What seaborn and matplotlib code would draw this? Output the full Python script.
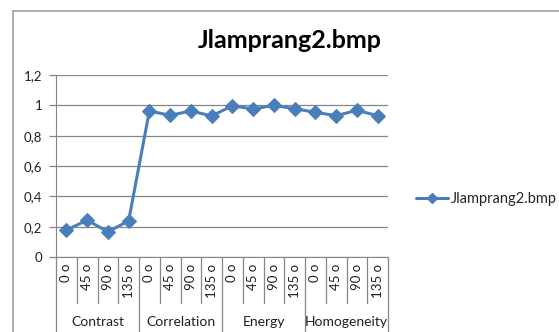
import matplotlib
matplotlib.use("Agg")
import matplotlib.pyplot as plt
import matplotlib.transforms as mtransforms
from matplotlib.lines import Line2D
import seaborn as sns
import numpy as np
import pandas as pd

groups = ["Contrast", "Correlation", "Energy", "Homogeneity"]
angles = ["0 o", "45 o", "90 o", "135 o"]
values = [0.177, 0.243, 0.166, 0.238,
          0.963, 0.934, 0.963, 0.930,
          0.997, 0.976, 1.000, 0.978,
          0.954, 0.932, 0.967, 0.932]
series_name = "Jlamprang2.bmp"
yticks = [0, 0.2, 0.4, 0.6, 0.8, 1.0, 1.2]
ytick_labels = ["0", "0,2", "0,4", "0,6", "0,8", "1", "1,2"]

sns.set_style("white")
plt.rcParams['font.family'] = ['Lato', 'DejaVu Sans']

W, H = 559, 332
fig = plt.figure(figsize=(W / 100, H / 100), dpi=100)

# chart border (left and top lines)
fig.add_artist(Line2D([13 / W, 13 / W], [0, 1 - 11 / H], color="#a0a0a0", lw=1.2))
fig.add_artist(Line2D([13 / W, 1], [1 - 11 / H, 1 - 11 / H], color="#a0a0a0", lw=1.2))

left, right, top, bottom = 56, 388, 75, 257
ax = fig.add_axes([left / W, (H - bottom) / H, (right - left) / W, (bottom - top) / H])

n = len(groups) * len(angles)
df = pd.DataFrame({
    "pos": np.arange(n),
    "value": values,
    "series": series_name,
})
color = "#4a7ebb"
sns.lineplot(data=df, x="pos", y="value", ax=ax, color=color, lw=2.2,
             marker="D", markersize=7.5, markeredgecolor=color, sort=False, legend=False)

ax.set_xlim(-0.5, n - 0.5)
ax.set_ylim(0, 1.2)
ax.set_yticks(yticks)
ax.set_yticklabels(ytick_labels, fontsize=9.5, color="#202020")
ax.yaxis.grid(True, color="#868686", lw=0.9)
ax.set_axisbelow(True)
ax.tick_params(axis="y", length=5, color="#868686", width=0.9, pad=5, left=True)
ax.set_xlabel("")
ax.set_ylabel("")
for s in ["top", "right"]:
    ax.spines[s].set_visible(False)
ax.spines["left"].set_color("#868686")
ax.spines["bottom"].set_color("#868686")
ax.spines["left"].set_bounds(0, 1.2)

# x tick labels (rotated)
ax.set_xticks(np.arange(n))
ax.set_xticklabels(angles * len(groups), rotation=90, fontsize=9.5, color="#202020")
ax.tick_params(axis="x", length=0, pad=5)

trans = mtransforms.blended_transform_factory(ax.transData, ax.transAxes)
px = 1.0 / (bottom - top)
# separators
for i in range(n + 1):
    xb = i - 0.5
    if i % len(angles) == 0:
        ax.plot([xb, xb], [0, -(H - bottom) * px], transform=trans, color="#868686",
                lw=0.9, clip_on=False)
    else:
        ax.plot([xb, xb], [0, -46 * px], transform=trans, color="#868686",
                lw=0.9, clip_on=False)
# group labels
for g, name in enumerate(groups):
    xc = g * len(angles) + (len(angles) - 1) / 2
    ax.text(xc, -(322 - bottom) * px, name, transform=trans, ha="center", va="center",
            fontsize=10, color="#202020")

# title
fig.text(290 / W, 1 - 40 / H, series_name, ha="center", va="center",
         fontsize=18, fontweight="bold", color="#000000")

# legend
handle = Line2D([], [], color=color, lw=2.2, marker="D", markersize=5.5, markeredgecolor=color)
fig.legend([handle], [series_name], loc="center left",
           bbox_to_anchor=(403 / W, 1 - 199 / H), frameon=False, fontsize=10.5,
           handlelength=2.2, handletextpad=0.15)

fig.savefig("out.png", dpi=100)
